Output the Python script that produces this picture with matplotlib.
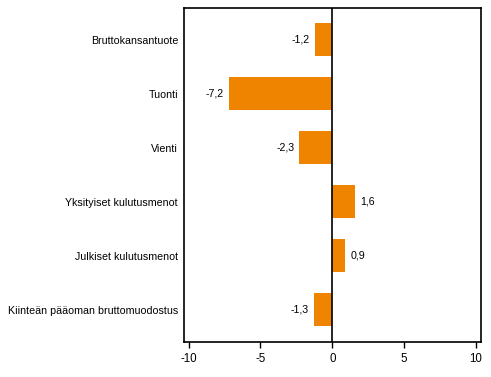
import matplotlib
matplotlib.use('Agg')
import matplotlib.pyplot as plt
import numpy as np

plt.rcParams['font.family'] = ['Liberation Sans', 'DejaVu Sans']

categories = ['Bruttokansantuote', 'Tuonti', 'Vienti', 'Yksityiset kulutusmenot',
              'Julkiset kulutusmenot', 'Kiinteän pääoman bruttomuodostus']
values = [-1.2, -7.2, -2.3, 1.6, 0.9, -1.3]
labels = ['-1,2', '-7,2', '-2,3', '1,6', '0,9', '-1,3']
xticks = [-10, -5, 0, 5, 10]

fig = plt.figure(figsize=(4.91, 3.77), dpi=100)
ax = fig.add_axes([0.3754, 0.0936, 0.6049, 0.8854])

y = np.arange(len(categories))
ax.barh(y, values, height=0.61, color='#EF8400', zorder=2)
ax.axvline(0, color='black', linewidth=1.2, zorder=3)

for yi, v, lab in zip(y, values, labels):
    if v < 0:
        ax.text(v - 0.35, yi, lab, ha='right', va='center', fontsize=7.7)
    else:
        ax.text(v + 0.35, yi, lab, ha='left', va='center', fontsize=7.7)

ax.set_yticks(y)
ax.set_yticklabels(categories, fontsize=7.7)
ax.tick_params(axis='y', length=0, pad=4.5)
ax.set_xticks(xticks)
ax.set_xticklabels([str(t) for t in xticks], fontsize=8.3)
ax.tick_params(axis='x', length=4, width=1, direction='out', pad=4)
ax.set_xlim(-10.3, 10.37)
ax.set_ylim(5.59, -0.59)
for s in ax.spines.values():
    s.set_linewidth(1.2)

plt.savefig('out.png', dpi=100)
